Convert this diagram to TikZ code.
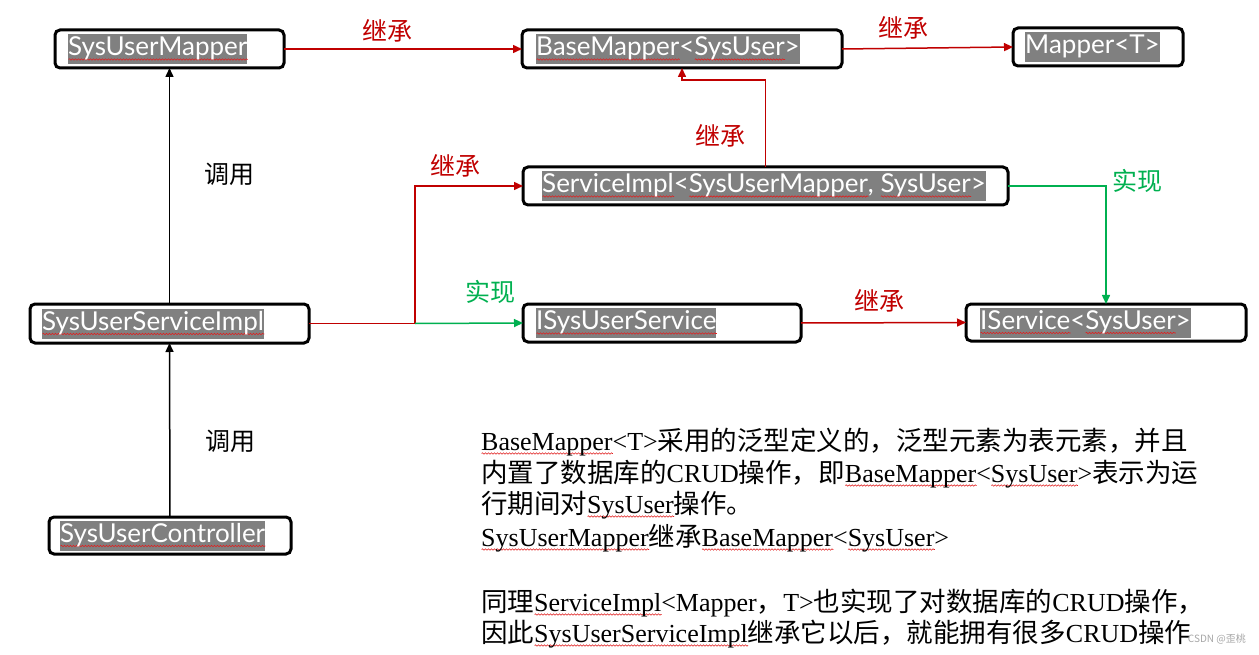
\documentclass[tikz,border=0pt]{standalone}
\usepackage{fontspec}
\setmainfont{Liberation Serif}
\newfontfamily\boxfont{Lato}
\newfontfamily\cjk{Noto Sans CJK SC}
\usetikzlibrary{arrows.meta,decorations.pathmorphing}
\definecolor{myred}{HTML}{C00000}
\definecolor{mygreen}{HTML}{00B050}
\definecolor{hlgray}{HTML}{808080}
\definecolor{wavered}{HTML}{E02020}
\newsavebox\rwbox
\newcommand\rw[1]{\sbox\rwbox{#1}\rlap{\tikz[baseline=0pt,x=1pt,y=1pt]\draw[draw=wavered,line width=0.6pt,decorate,decoration={snake,amplitude=0.7pt,segment length=3pt}] (0,-3.5) -- (\the\wd\rwbox,-3.5);}\usebox\rwbox}
\newcommand\zh[1]{{\cjk\fontsize{26.5}{30}\selectfont #1}}
\tikzset{
 box/.style={draw=black, line width=3pt, rounded corners=5pt, anchor=north west, inner sep=0pt, outer sep=0pt},
 hl/.style={fill=hlgray, text=white, font=\boxfont\fontsize{26}{30}\selectfont, inner xsep=0pt, inner ysep=2pt, anchor=west, text height=20pt, text depth=6pt},
 conn/.style={line width=1.5pt, -{Triangle[length=9pt,width=8pt]}},
 redarr/.style={conn, draw=myred},
 greenarr/.style={conn, draw=mygreen},
 blackarr/.style={conn, draw=black},
 lbl/.style={font=\cjk\fontsize{25}{28}\selectfont, inner sep=0pt},
 para/.style={anchor=base west, inner sep=0pt, font=\fontsize{26}{30}\selectfont}
}
\begin{document}
\begin{tikzpicture}[x=1pt,y=-1pt]
\useasboundingbox (0,0) rectangle (1259,655);
% boxes
\node[box, minimum width=229pt, minimum height=38pt] (A) at (55,30) {};
\node[box, minimum width=320pt, minimum height=38pt] (B) at (522,30) {};
\node[box, minimum width=170pt, minimum height=38pt] (C) at (1013,28) {};
\node[box, minimum width=485pt, minimum height=38pt] (D) at (523,167) {};
\node[box, minimum width=279pt, minimum height=39pt] (E) at (30,304) {};
\node[box, minimum width=278pt, minimum height=38pt] (F) at (523,304) {};
\node[box, minimum width=280pt, minimum height=37pt] (G) at (966,304) {};
\node[box, minimum width=242pt, minimum height=37pt] (H) at (49,517) {};
% highlighted texts
\node[hl] (At) at ([xshift=13pt]A.west) {\rw{SysUserMapper}};
\node[hl] (Bt) at ([xshift=14pt]B.west) {\rw{BaseMapper}<\rw{SysUser}>};
\node[hl] (Ct) at ([xshift=12pt]C.west) {Mapper<T>};
\node[hl] (Dt) at ([xshift=19pt]D.west) {\rw{ServiceImpl}<\rw{SysUserMapper}, \rw{SysUser}>};
\node[hl] (Et) at ([xshift=12pt]E.west) {\rw{SysUserServiceImpl}};
\node[hl] (Ft) at ([xshift=13pt]F.west) {\rw{ISysUserService}};
\node[hl] (Gt) at ([xshift=14pt]G.west) {\rw{IService}<\rw{SysUser}>};
\node[hl] (Ht) at ([xshift=11pt]H.west) {\rw{SysUserController}};
% connectors
\coordinate (J) at (415,323.5);
\draw[redarr] (A.east) -- (B.west);
\draw[redarr] (B.east) -- (C.west);
\draw[redarr] (D.north) -- ++(0,-87) -| (B.south);
\draw[redarr] (E.east) -- (J) |- (D.west);
\draw[greenarr] (J) -- (F.west);
\draw[greenarr] (D.east) -| (G.north);
\draw[redarr] (F.east) -- (G.west);
\draw[blackarr] (E.north) -- (A.south);
\draw[blackarr] (H.north) -- (E.south);
% labels
\node[lbl, text=myred] (l1) at (387,31) {继承};
\node[lbl, text=myred] (l2) at (903,28) {继承};
\node[lbl, text=myred] (l3) at (720,136) {继承};
\node[lbl, text=myred] (l4) at (455,166) {继承};
\node[lbl, text=myred] (l5) at (879,301) {继承};
\node[lbl, text=mygreen] (l6) at (490,292) {实现};
\node[lbl, text=mygreen] (l7) at (1137,181) {实现};
\node[lbl] (l8) at (229,174) {调用};
\node[lbl] (l9) at (230,441) {调用};
% paragraph
\node[para] (p1) at (481,450) {\rw{BaseMapper}<T>\zh{采用的泛型定义的，泛型元素为表元素，并且}};
\node[para] (p2) at (481,482) {\zh{内置了数据库的}CRUD\zh{操作，即}\rw{BaseMapper}<\rw{SysUser}>\zh{表示为运}};
\node[para] (p3) at (481,513) {\zh{行期间对}\rw{SysUser}\zh{操作。}};
\node[para] (p4) at (481,546) {\rw{SysUserMapper}\zh{继承}\rw{BaseMapper}<\rw{SysUser}>};
\node[para] (p6) at (481,611) {\zh{同理}\rw{ServiceImpl}<Mapper\zh{，}T>\zh{也实现了对数据库的}CRUD\zh{操作，}};
\node[para] (p7) at (481,642) {\zh{因此}\rw{SysUserServiceImpl}\zh{继承它以后，就能拥有很多}CRUD\zh{操作}};
\node[anchor=east, inner sep=0pt, text=gray!70, font=\cjk\fontsize{10}{12}\selectfont] (wm) at (1246,639) {CSDN @歪桃};
\end{tikzpicture}
\end{document}
